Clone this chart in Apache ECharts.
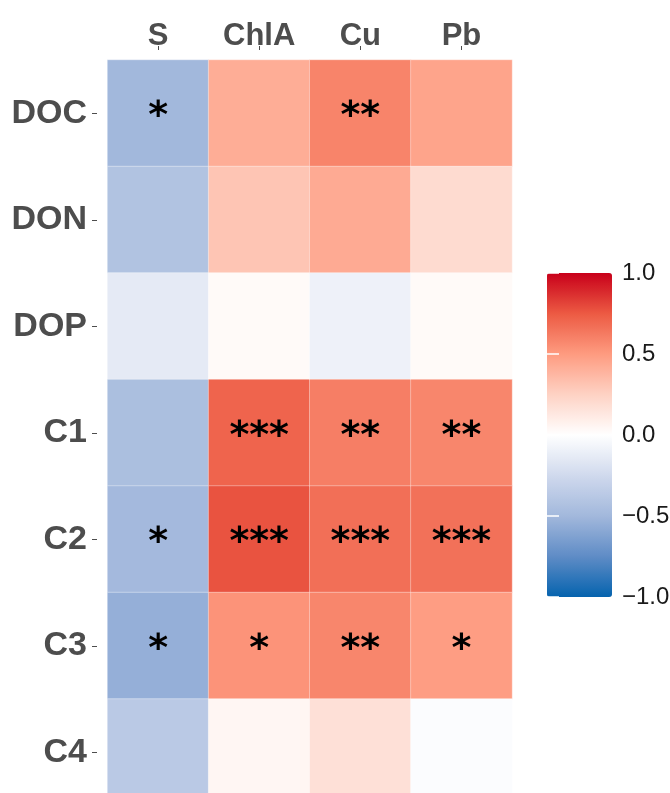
<!DOCTYPE html>
<html>
<head>
<meta charset="utf-8">
<script src="https://cdn.jsdelivr.net/npm/echarts@6/dist/echarts.min.js"></script>
<style>
html,body{margin:0;padding:0;background:#fff;}
#main{width:670px;height:793px;}
</style>
</head>
<body>
<div id="main"></div>
<script>
// ---- data ----
var rowsCat = ['DOC', 'DON', 'DOP', 'C1', 'C2', 'C3', 'C4'];
var colsCat = ['S', 'ChlA', 'Cu', 'Pb'];
var corrS    = [-0.50, -0.42, -0.14, -0.45, -0.49, -0.55, -0.37];
var corrChlA = [ 0.42,  0.31,  0.03,  0.71,  0.77,  0.53,  0.05];
var corrCu   = [ 0.59,  0.43, -0.09,  0.61,  0.67,  0.58,  0.17];
var corrPb   = [ 0.46,  0.20,  0.03,  0.58,  0.66,  0.49, -0.02];
var sigS    = ['*', '', '', '', '*', '*', ''];
var sigChlA = ['', '', '', '***', '***', '*', ''];
var sigCu   = ['**', '', '', '**', '***', '**', ''];
var sigPb   = ['', '', '', '**', '***', '*', ''];
var legendTicks = [-1, -0.5, 0, 0.5, 1];

// ---- build ----
var corrCols = [corrS, corrChlA, corrCu, corrPb];
var sigCols = [sigS, sigChlA, sigCu, sigPb];
var heatData = [];
for (var c = 0; c < colsCat.length; c++) {
  for (var r = 0; r < rowsCat.length; r++) {
    heatData.push({ value: [c, r, corrCols[c][r]], sig: sigCols[c][r] });
  }
}
var colorStops = ['#0563ae', '#5f8cc6', '#a2b8dc', '#d0d9ed', '#ffffff', '#fed2c4', '#fe9b80', '#ec5a43', '#c8001a'];
function fmt(v) {
  var s = Math.abs(v).toFixed(1);
  return v < 0 ? '\u2212' + s : s;
}

var chart = echarts.init(document.getElementById('main'), null, { renderer: 'canvas' });
chart.setOption({
  backgroundColor: '#ffffff',
  animation: false,
  grid: [
    { left: 107.5, top: 60, width: 404.5, height: 745.5, outerBoundsMode: 'none', containLabel: false },
    { left: 547, top: 273, width: 65, height: 324, outerBoundsMode: 'none', containLabel: false }
  ],
  xAxis: [
    {
      type: 'category', data: colsCat, position: 'top', gridIndex: 0, offset: 10,
      axisLine: { show: false },
      axisTick: { show: true, length: 4, alignWithLabel: true, lineStyle: { color: '#4d4d4d', width: 1 } },
      axisLabel: { margin: -2, fontFamily: 'Liberation Sans, Arial, sans-serif', fontWeight: 'bold', fontSize: 31, color: '#4d4d4d' },
      splitLine: { show: false }
    },
    { type: 'value', gridIndex: 1, show: false, min: 0, max: 1 }
  ],
  yAxis: [
    {
      type: 'category', data: rowsCat, inverse: true, gridIndex: 0, offset: 10.5,
      axisLine: { show: false },
      axisTick: { show: true, length: 5, alignWithLabel: true, lineStyle: { color: '#4d4d4d', width: 1 } },
      axisLabel: { margin: 10, fontFamily: 'Liberation Sans, Arial, sans-serif', fontWeight: 'bold', fontSize: 34, color: '#4d4d4d' },
      splitLine: { show: false }
    },
    {
      type: 'value', gridIndex: 1, position: 'right', min: -1, max: 1, interval: 0.5,
      axisLine: { show: false },
      axisTick: { show: true, inside: true, length: 12, lineStyle: { color: '#ffffff', width: 1.5 } },
      axisLabel: { margin: 10, fontFamily: 'Liberation Sans, Arial, sans-serif', fontSize: 24, color: '#1a1a1a', formatter: function (v) { return fmt(v); } },
      splitLine: { show: false }, z: 10
    },
    {
      type: 'value', gridIndex: 1, position: 'left', min: -1, max: 1, interval: 0.5,
      axisLine: { show: false },
      axisTick: { show: true, inside: true, length: 12, lineStyle: { color: '#ffffff', width: 1.5 } },
      axisLabel: { show: false },
      splitLine: { show: false }, z: 10
    }
  ],
  visualMap: {
    type: 'continuous', min: -1, max: 1, seriesIndex: 0, dimension: 2,
    calculable: false, orient: 'vertical', left: 547, top: 273,
    itemWidth: 65, itemHeight: 324, padding: 0, text: null, showLabel: false,
    inRange: { color: colorStops }, z: 2
  },
  series: [
    {
      type: 'heatmap', xAxisIndex: 0, yAxisIndex: 0, data: heatData,
      itemStyle: { borderColor: 'rgba(255,255,255,0.35)', borderWidth: 1 },
      label: {
        show: true, color: '#000000', fontFamily: 'DejaVu Sans, sans-serif', fontWeight: 'bold', fontSize: 38,
        offset: [0, 4],
        formatter: function (p) { return p.data.sig; }
      },
      emphasis: { disabled: true }
    },
    {
      type: 'scatter', xAxisIndex: 1, yAxisIndex: 1, data: legendTicks.map(function (t) { return [0.5, t]; }),
      symbolSize: 0, silent: true
    }
  ]
});
</script>
</body>
</html>
